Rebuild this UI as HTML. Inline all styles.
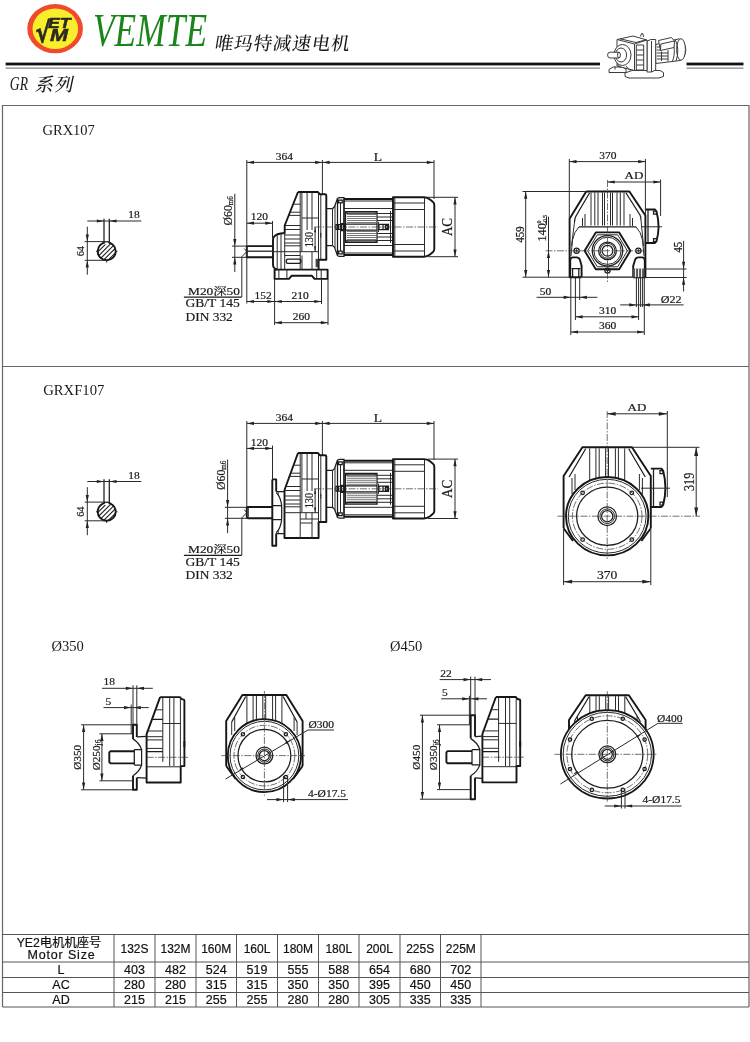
<!DOCTYPE html>
<html lang="zh">
<head>
<meta charset="utf-8">
<title>GR 系列 GRX107 GRXF107</title>
<style>
html,body{margin:0;padding:0;background:#fff;}
body{width:750px;height:1042px;position:relative;overflow:hidden;font-family:"Liberation Serif","Noto Serif CJK SC",serif;color:#111;}
svg{position:absolute;left:0;top:0;will-change:transform;}
.s{font-family:"Liberation Serif","Noto Serif CJK SC",serif;fill:#1a1a1a;}
.d{font-family:"Liberation Serif","Noto Serif CJK SC",serif;fill:#1a1a1a;font-size:11.5px;stroke:#1a1a1a;stroke-width:0.22px;}
.t{font-family:"Liberation Sans","Noto Sans CJK SC",sans-serif;fill:#111;font-size:12.5px;text-anchor:middle;stroke:#111;stroke-width:0.2px;}
.k{stroke:#1c1c1c;fill:none;stroke-width:1.25;}
.k2{stroke:#161616;fill:none;stroke-width:1.9;stroke-linejoin:round;}
.h{stroke:#2a2a2a;fill:none;stroke-width:1;}
.c{stroke:#333;fill:none;stroke-width:0.7;stroke-dasharray:7 1.5 1.5 1.5;}
.w{fill:#fff;stroke:#222;stroke-width:1;}
.a{fill:#222;stroke:none;}
</style>
</head>
<body>
<svg width="750" height="1042" viewBox="0 0 750 1042">
<!-- HEADER -->
<g id="header">
<ellipse cx="55.1" cy="28.7" rx="27.8" ry="24.6" fill="#f04a2c"/>
<ellipse cx="55.3" cy="28.7" rx="22.8" ry="20.3" fill="#f8ee2c"/>
<text x="93" y="46.2" font-family="Liberation Serif,serif" font-style="italic" style="font-size:45.5px" fill="#1a851a" textLength="114" lengthAdjust="spacingAndGlyphs">VEMTE</text>
<text x="214" y="50.3" class="s" style="font-size:18.5px" font-weight="500" letter-spacing="0.9" transform="translate(214 50) skewX(-9) translate(-214 -50)">唯玛特减速电机</text>
<rect x="5.6" y="62.6" width="594.4" height="2.8" fill="#111"/>
<rect x="5.6" y="67.6" width="594.4" height="1" fill="#666"/>
<rect x="686.5" y="62.6" width="57" height="2.8" fill="#111"/>
<rect x="686.5" y="67.6" width="57" height="1" fill="#666"/>
<text x="9.8" y="90.4" class="s" style="font-size:18px" font-style="italic" textLength="18.2" lengthAdjust="spacingAndGlyphs">GR</text>
<text x="34.6" y="90.6" class="s" style="font-size:18.5px" font-weight="500" letter-spacing="0.8" transform="translate(34.6 90.6) skewX(-12) translate(-34.6 -90.6)">系列</text>
</g>
<!-- FRAME -->
<g id="frame" stroke="#666" stroke-width="1" fill="none">
<path d="M2.5 1007 V105.5 H749 V1007" stroke-width="1.2"/>
<path d="M2.5 366.5 H749"/>
</g>
<!-- TABLE -->
<g id="table">
<g stroke="#555" stroke-width="1" fill="none">
<path d="M2.5 934.5 H749 M2.5 962 H749 M2.5 977.5 H749 M2.5 992.5 H749 M2.5 1007 H749"/>
<path d="M114 934.5 V1007 M155 934.5 V1007 M196 934.5 V1007 M236.5 934.5 V1007 M277.5 934.5 V1007 M318.5 934.5 V1007 M359 934.5 V1007 M400 934.5 V1007 M440.5 934.5 V1007 M481 934.5 V1007"/>
</g>
<text class="t" x="59" y="947" style="font-size:12.3px">YE2电机机座号</text>
<text class="t" x="61.5" y="959.3" style="font-size:12.5px" letter-spacing="0.85">Motor Size</text>
<text class="t" x="61" y="974">L</text><text class="t" x="61" y="989">AC</text><text class="t" x="61" y="1004">AD</text>
<text class="t" x="134.5" y="953" style="font-size:12px">132S</text>
<text class="t" x="175.5" y="953" style="font-size:12px">132M</text>
<text class="t" x="216.2" y="953" style="font-size:12px">160M</text>
<text class="t" x="257.0" y="953" style="font-size:12px">160L</text>
<text class="t" x="298.0" y="953" style="font-size:12px">180M</text>
<text class="t" x="338.8" y="953" style="font-size:12px">180L</text>
<text class="t" x="379.5" y="953" style="font-size:12px">200L</text>
<text class="t" x="420.2" y="953" style="font-size:12px">225S</text>
<text class="t" x="460.8" y="953" style="font-size:12px">225M</text>
<text class="t" x="134.5" y="974">403</text>
<text class="t" x="175.5" y="974">482</text>
<text class="t" x="216.2" y="974">524</text>
<text class="t" x="257.0" y="974">519</text>
<text class="t" x="298.0" y="974">555</text>
<text class="t" x="338.8" y="974">588</text>
<text class="t" x="379.5" y="974">654</text>
<text class="t" x="420.2" y="974">680</text>
<text class="t" x="460.8" y="974">702</text>
<text class="t" x="134.5" y="989">280</text>
<text class="t" x="175.5" y="989">280</text>
<text class="t" x="216.2" y="989">315</text>
<text class="t" x="257.0" y="989">315</text>
<text class="t" x="298.0" y="989">350</text>
<text class="t" x="338.8" y="989">350</text>
<text class="t" x="379.5" y="989">395</text>
<text class="t" x="420.2" y="989">450</text>
<text class="t" x="460.8" y="989">450</text>
<text class="t" x="134.5" y="1004">215</text>
<text class="t" x="175.5" y="1004">215</text>
<text class="t" x="216.2" y="1004">255</text>
<text class="t" x="257.0" y="1004">255</text>
<text class="t" x="298.0" y="1004">280</text>
<text class="t" x="338.8" y="1004">280</text>
<text class="t" x="379.5" y="1004">305</text>
<text class="t" x="420.2" y="1004">335</text>
<text class="t" x="460.8" y="1004">335</text>
</g>
<!-- LABELS -->
<text x="42.5" y="134.5" class="s" style="font-size:14.5px">GRX107</text>
<text x="43.2" y="394.5" class="s" style="font-size:14.7px">GRXF107</text>
<text x="51.5" y="651" class="s" style="font-size:14.5px">Ø350</text>
<text x="390" y="651" class="s" style="font-size:14.5px">Ø450</text>
<g id="hdr-extra">
<text x="35.5" y="41.8" font-family="DejaVu Sans,Liberation Sans,sans-serif" font-weight="bold" style="font-size:28px" fill="#2a2a22" stroke="#2a2a22" stroke-width="0.7" textLength="15" lengthAdjust="spacingAndGlyphs">√</text>
<text x="48" y="27.5" font-family="Liberation Sans,sans-serif" font-weight="bold" font-style="italic" style="font-size:15.5px" fill="#2a2a22" stroke="#2a2a22" stroke-width="0.5" textLength="22.5" lengthAdjust="spacingAndGlyphs">ET</text>
<text x="50" y="41.3" font-family="Liberation Sans,sans-serif" font-weight="bold" font-style="italic" style="font-size:17px" fill="#2a2a22" stroke="#2a2a22" stroke-width="0.5" textLength="18" lengthAdjust="spacingAndGlyphs">M</text>
<g stroke="#3c3c3c" stroke-width="1" fill="#fff" stroke-linejoin="round">
<path d="M609 69.5 L613 67 H622 L626 69 V72.5 H609 Z"/>
<path d="M625 73 L632 70.5 H660 L663.5 72.5 V76.5 L659 78 H629 L625 76.5 Z"/>
<path d="M655.7 44.5 L679 38.8 Q686 43 685.8 50 Q685.5 57 680.5 60.5 L655.7 63.5 Z"/>
<ellipse cx="681" cy="49.5" rx="4.4" ry="10.8"/>
<path d="M672 40.5 Q676.5 50 672.5 61.5 M675.3 39.8 Q680 49.5 676 61" fill="none"/>
<path d="M658.5 40.5 L671.5 37.5 L674.5 41 L674 47.5 L660.5 50.5 Z"/>
<path d="M660.5 50.5 L660.8 44 L672 41.5 L674.5 41 M657 47 H660 M657 50 H660 M657 53 H668 M657 56 H668 M657 59 H668 M661.5 51.5 V61 M668 50 V61.5" fill="none"/>
<path d="M647 41 L651 39.5 H655.7 V70 L651.5 72 H647 Z"/>
<path d="M651.5 41 V72" fill="none"/>
<path d="M617 39.5 L633 36 L647 40 V70.5 H634.5 L617 66 Z"/>
<path d="M617 39.5 L634.5 44 L647 40 M634.5 44 V70.5 M620 38.8 L636 42.5 L645 40" fill="none"/>
<path d="M636.3 45 H643.7 V70 H636.3 Z M636.3 50 H643.7 M636.3 55 H643.7 M636.3 60 H643.7 M636.3 65 H643.7" />
<path d="M640.5 36.5 L641.5 33.5 L643 33.8 L643.5 37" fill="none"/>
<ellipse cx="622.5" cy="55" rx="8.5" ry="10.5"/>
<ellipse cx="621" cy="55" rx="5.6" ry="7"/>
<path d="M619 52.2 H610 Q607.6 52.2 607.6 55.1 Q607.6 58 610 58 H619 Z"/>
<ellipse cx="619" cy="55.1" rx="1.4" ry="2.9"/>
<path d="M617.5 64 L621 68 M626 66 L630 70.5 M615 66.5 V69.5" fill="none"/>
</g>
</g>
<g id="d1-key">
<clipPath id="kc"><circle cx="106.7" cy="251.3" r="9.0"/></clipPath>
<path d="M77.3 263.3 L101.3 239.3 M81.9 263.3 L105.9 239.3 M86.5 263.3 L110.5 239.3 M91.1 263.3 L115.1 239.3 M95.7 263.3 L119.7 239.3 M100.3 263.3 L124.3 239.3 M104.9 263.3 L128.9 239.3 M109.5 263.3 L133.5 239.3 M114.1 263.3 L138.1 239.3" stroke="#222" stroke-width="1.1" fill="none" clip-path="url(#kc)"/>
<circle class="k2" cx="106.7" cy="251.3" r="9"/>
<rect x="104.6" y="241" width="4.1" height="3.6" fill="#fff"/>
<path class="k" d="M104 241.8 L109.3 241.8"/>
<path class="k" d="M104 218.7 L104 243.5"/>
<path class="k" d="M109.3 218.7 L109.3 243.5"/>
<path class="h" d="M87.3 221 L141.3 221"/>
<polygon class="a" points="104,221 96.8,219.4 96.8,222.6"/>
<polygon class="a" points="109.3,221 116.5,219.4 116.5,222.6"/>
<text class="d" transform="translate(134 218) scale(1 0.84)" text-anchor="middle">18</text>
<path class="h" d="M87.3 226.7 L87.3 274.7"/>
<polygon class="a" points="87.3,241.6 85.7,234.4 88.9,234.4"/>
<polygon class="a" points="87.3,260.3 85.7,267.5 88.9,267.5"/>
<path class="h" d="M84.7 241.6 L105 241.6"/>
<path class="h" d="M84.7 260.3 L106 260.3"/>
<text class="d" transform="translate(84 251.2) rotate(-90) scale(1 1)" text-anchor="middle" style="font-size:10.3px">64</text>
<path class="h" d="M96 251.3 L98 251.3"/>
<path class="h" d="M115.5 251.3 L117.5 251.3"/>
<path class="h" d="M106.7 260.5 L106.7 262.5"/>
</g>
<g id="d1-m20">
<text class="d" transform="translate(188 294.8) scale(1 0.84)" text-anchor="start" style="font-size:12.6px" textLength="52" lengthAdjust="spacingAndGlyphs">M20深50</text>
<path class="k" d="M183.9 297 L241.8 297"/>
<text class="d" transform="translate(185.5 307.3) scale(1 0.84)" text-anchor="start" style="font-size:14.3px" textLength="54.3" lengthAdjust="spacingAndGlyphs">GB/T 145</text>
<text class="d" transform="translate(185.5 321) scale(1 0.84)" text-anchor="start" style="font-size:14.3px" textLength="47.3" lengthAdjust="spacingAndGlyphs">DIN 332</text>
<path class="h" d="M241.8 297 V256.8 L246.8 251.5 L244.3 248.6"/>
<path class="h" d="M234.8 193.7 L234.8 272"/>
<polygon class="a" points="234.8,246.1 233.2,238.9 236.4,238.9"/>
<polygon class="a" points="234.8,257.3 233.2,264.5 236.4,264.5"/>
<path class="h" d="M232 246.1 L247 246.1"/>
<path class="h" d="M232 257.3 L247 257.3"/>
<text class="d" transform="translate(232.3 225.5) rotate(-90) scale(0.95 1)" text-anchor="start" style="font-size:12.4px">Ø60<tspan style="font-size:7.5px" dy="1">m6</tspan></text>
</g>
<g id="d1-side">
<path class="k2" d="M298 192 H317.8 L320 194.3 H325 Q326.3 194.3 326.3 195.6 V259.7 H318.6 V269.5"/>
<path class="k2" d="M298 192 L284.7 225.5 V233 Q276 233.5 273.8 237 Q273 238 273 240 V264.5 Q273 268.5 277 269.5"/>
<path class="k2" d="M274.6 269.6 H327.6 V278.9 H314.5 L312 275.8 H291.5 L289 278.9 H274.6 Z"/>
<path class="h" d="M278.9 269.6 V278.9 M286.9 269.6 V278.9 M316.7 269.6 V278.9 M321.2 269.6 V278.9"/>
<path class="h" d="M300.2 192.5 V269.5 M301.9 193 V251.5 M307.1 193 V230 M312 193 V230 M318.5 194 V259.7 M320.8 195 V259.5"/>
<path class="h" d="M284.7 233 V269.5 M281 234 V269 M277.2 235.5 V269"/>
<path class="h" d="M293.3 204.2 H300.2 M290.1 212.2 H300.2 M288.8 215.4 H300.2 M284.7 225.5 H300.2 M284.7 229.5 H300.2 M284.7 235 H300.2 M284.7 239 H300.2 M284.7 243 H300.2 M284.7 245.8 H300.2 M273 251.7 H318.5"/>
<path class="h" d="M301.9 218 H318.5"/>
<path class="k" d="M288 259 H298.8 Q301 259 301 261.2 Q301 263.4 298.8 263.4 H288 Q286.2 263.4 286.2 261.2 Q286.2 259 288 259 Z"/>
<path class="h" d="M284.7 255.5 H300.2 M302 255.5 V269.5 M312 252 V269.5"/>
<rect x="315.6" y="258.8" width="2.6" height="8.4" fill="#444"/>
<path class="k" d="M326.3 208.5 H332 Q334.5 208 335.5 204 L337.5 198.5 M326.3 245.5 H332 Q334.5 246 335.5 250 L337.5 255.5"/>
<path class="h" d="M332.5 208.5 V245.5 M335 206 V248"/>
<path class="k" d="M337.5 198.5 Q338 197.6 340 197.6 H344 V256.4 H340 Q338 256.4 337.5 255.5 Z"/>
<path class="k" d="M338.6 200.2 h3.6 v2.6 h-3.6 z M338.6 251.2 h3.6 v2.6 h-3.6 z"/>
<path class="h" d="M340.5 203 V251"/>
<path class="k2" d="M344 199 H393 M344 255 H393"/>
<path class="h" d="M344 201 H393 M344 253 H393 M344 208.5 H393 M344 245.5 H393"/>
<path class="k" d="M344 199 V255"/>
<path class="k" d="M345.5 211.6 H377 V242.4 H345.5 Z"/>
<path class="h" style="stroke:#555;stroke-width:0.8" d="M347 214.5 H376 M347 216.5 H376 M347 218.5 H376 M347 220.5 H376 M347 222.5 H376 M347 231.5 H376 M347 233.5 H376 M347 235.5 H376 M347 237.5 H376 M347 239.5 H376"/>
<path class="k" d="M345.5 213.2 H377 M345.5 224 H377 M345.5 230 H377 M345.5 240.8 H377"/>
<path class="h" d="M346 211.6 l2 2 M377 211.6 l-2 2 M346 242.4 l2 -2 M377 242.4 l-2 -2"/>
<path class="k" d="M336 224.6 h9 v4.8 h-9 z M338.5 224.6 v4.8 M341.5 223.5 h2.5 v7 h-2.5 z"/>
<path class="h" d="M377 213.5 H393 M377 217 H393 M377 220.5 H393 M377 233.5 H393 M377 237 H393 M377 240.5 H393"/>
<path class="k" d="M379 224.3 h9.5 v5.4 h-9.5 z M383 224.3 v5.4 M385.5 225.6 h2.2 v2.8 h-2.2 z"/>
<path class="h" d="M378.5 222 V232 M390.5 211 V243"/>
<path class="k2" d="M393 197.3 H424 Q427 197.3 430 199.5 L433 202 Q434.3 203 434.3 205 V249 Q434.3 251 433 252 L430 254.5 Q427 256.7 424 256.7 H393 Z"/>
<path class="h" d="M394.8 197.3 V256.7 M424.5 197.5 V256.5 M393 203 H424.5 M393 251 H424.5 M393 209.5 H424.5 M393 244.5 H424.5"/>
<path class="c" d="M314 227 L438 227"/>
<path class="k2" d="M273 246.1 H246.8 V257.2 H273"/>
<path class="k" d="M247 251.2 H273"/>
<path class="h" d="M246.8 162.4 L322.4 162.4"/>
<polygon class="a" points="246.8,162.4 254,160.8 254,164"/>
<polygon class="a" points="322.4,162.4 315.2,160.8 315.2,164"/>
<path class="h" d="M322.4 162.4 L434 162.4"/>
<polygon class="a" points="322.4,162.4 329.6,160.8 329.6,164"/>
<polygon class="a" points="434,162.4 426.8,160.8 426.8,164"/>
<text class="d" transform="translate(284.4 159.6) scale(1 0.84)" text-anchor="middle">364</text>
<text class="d" transform="translate(378 160.8) scale(1 0.84)" text-anchor="middle" style="font-size:13.6px">L</text>
<path class="h" d="M246.8 160 L246.8 303.5"/>
<path class="h" d="M322.4 160 L322.4 194"/>
<path class="h" d="M434 160 L434 199"/>
<path class="h" d="M455 197.3 L455 256.7"/>
<polygon class="a" points="455,197.3 453.4,204.5 456.6,204.5"/>
<polygon class="a" points="455,256.7 453.4,249.5 456.6,249.5"/>
<path class="h" d="M428 197.3 L458 197.3"/>
<path class="h" d="M428 256.7 L458 256.7"/>
<text class="d" transform="translate(452.2 227) rotate(-90) scale(0.86 1)" text-anchor="middle" style="font-size:15.3px">AC</text>
<path class="h" d="M315.1 227 L315.1 251.7"/>
<polygon class="a" points="315.1,227.3 314.1,232.3 316.1,232.3"/>
<polygon class="a" points="315.1,251.5 314.1,246.5 316.1,246.5"/>
<text class="d" transform="translate(312.6 239.6) rotate(-90) scale(0.87 1)" text-anchor="middle" style="font-size:11.8px">130</text>
<polygon class="a" points="320.8,232 320,235 321.6,235"/>
<polygon class="a" points="320.8,238.5 320,235.5 321.6,235.5"/>
<path class="h" d="M246.8 223.2 L272.5 223.2"/>
<polygon class="a" points="246.8,223.2 254,221.6 254,224.8"/>
<polygon class="a" points="272.5,223.2 265.3,221.6 265.3,224.8"/>
<text class="d" transform="translate(259.3 220.4) scale(1 0.84)" text-anchor="middle">120</text>
<path class="h" d="M272.5 221 L272.5 238"/>
<path class="h" d="M246.8 301.5 L274.6 301.5"/>
<polygon class="a" points="246.8,301.5 254,299.9 254,303.1"/>
<polygon class="a" points="274.6,301.5 267.4,299.9 267.4,303.1"/>
<path class="h" d="M274.6 301.5 L321.5 301.5"/>
<polygon class="a" points="274.6,301.5 281.8,299.9 281.8,303.1"/>
<polygon class="a" points="321.5,301.5 314.3,299.9 314.3,303.1"/>
<text class="d" transform="translate(263 298.8) scale(1 0.84)" text-anchor="middle">152</text>
<text class="d" transform="translate(300 298.8) scale(1 0.84)" text-anchor="middle">210</text>
<path class="h" d="M274.6 279 L274.6 325"/>
<path class="h" d="M321.5 279 L321.5 304"/>
<path class="h" d="M328 279 L328 325"/>
<path class="h" d="M274.6 322.7 L328 322.7"/>
<polygon class="a" points="274.6,322.7 281.8,321.1 281.8,324.3"/>
<polygon class="a" points="328,322.7 320.8,321.1 320.8,324.3"/>
<text class="d" transform="translate(301.3 320) scale(1 0.84)" text-anchor="middle">260</text>
</g>
<g id="d1-front">
<path class="k2" d="M586.2 191.5 H629.4 L645.4 215.5 V277.2 H633.2 M581.6 277.2 H569.6 V218.8 L586.2 191.5"/>
<path class="k" d="M581.6 277.2 H633.2"/>
<path class="k" d="M589.5 193 L576 216 Q574.5 219 574.5 222 M626 193 L640 215 Q641 217.5 641 220"/>
<path class="h" d="M574.5 222 L571.5 246 M641 220 L643.5 246"/>
<path class="h" d="M591 192.5 V225.5 M594.8 192.5 V225.5 M598 192.5 V225.5 M602.5 192.5 V225.5 M604.5 192.5 V225.5 M610.5 192.5 V225.5 M612.5 192.5 V225.5 M617 192.5 V225.5 M620.3 192.5 V225.5 M624 192.5 V225.5"/>
<path class="h" d="M582.5 218 V226 M585 214 V226 M630 214 V226 M632.5 218 V226"/>
<path class="k" d="M579 226.8 H636"/>
<path class="h" d="M579 226.8 Q574 232 572.5 240 L571 256 M636 226.8 Q641 232 642.5 240 L644 256"/>
<path class="k2" d="M584.6 250.8 L595.8 232.4 H619.2 L630.4 250.8 L619.2 269.2 H595.8 Z"/>
<path class="h" d="M587.6 250.8 L597.3 234.8 H617.7 L627.4 250.8 L617.7 266.8 H597.3 Z"/>
<circle class="k" cx="607.5" cy="250.8" r="15.2"/>
<circle class="h" cx="607.5" cy="250.8" r="13.6"/>
<circle class="k" cx="607.5" cy="250.8" r="8.8"/>
<circle class="h" cx="607.5" cy="250.8" r="7.4"/>
<circle class="k" cx="607.5" cy="250.8" r="5.4"/>
<circle class="k" cx="576.6" cy="250.8" r="2.6"/>
<path class="h" d="M575 250.8 h3.2 M576.6 249.2 v3.2"/>
<circle class="k" cx="638.4" cy="250.8" r="2.6"/>
<path class="h" d="M636.8 250.8 h3.2 M638.4 249.2 v3.2"/>
<circle class="k" cx="607.5" cy="270.6" r="2.6"/>
<path class="h" d="M605.9 270.6 h3.2 M607.5 269 v3.2"/>
<path class="k2" d="M570.2 277 V260.5 Q570.2 257.4 573 257.4 H576.5 Q579 257.4 580 260 L581.6 266 V277"/>
<path class="k2" d="M644.8 277 V260.5 Q644.8 257.4 642 257.4 H638.5 Q636 257.4 635 260 L633.2 266 V277"/>
<path class="k" d="M571.5 268.5 H580.5 M572.6 268.5 V277 M578.8 268.5 V277"/>
<rect x="633" y="268.6" width="11.6" height="8.6" fill="#555"/>
<path class="h" style="stroke:#fff" d="M635.6 268.6 V277.2 M638.6 268.6 V277.2 M641.6 268.6 V277.2"/>
<path class="k2" d="M645.4 209.5 H655 L656.5 211.5 Q660.6 226.8 656.5 241 L655 243 H645.4"/>
<path class="k" d="M653.5 211 h3 v3 h-3 z M653.5 238.5 h3 v3 h-3 z M648 209.5 V243"/>
<path class="c" d="M545.5 250.8 L646 250.8"/>
<path class="c" d="M607.5 180 L607.5 282"/>
<path class="h" d="M641 226.8 L662 226.8"/>
<path class="h" d="M569.3 161.6 L645.4 161.6"/>
<polygon class="a" points="569.3,161.6 576.5,160 576.5,163.2"/>
<polygon class="a" points="645.4,161.6 638.2,160 638.2,163.2"/>
<text class="d" transform="translate(607.8 158.8) scale(1 0.84)" text-anchor="middle">370</text>
<path class="h" d="M569.3 159 L569.3 219"/>
<path class="h" d="M645.4 159 L645.4 215"/>
<path class="h" d="M607.5 182 L660.6 182"/>
<polygon class="a" points="607.5,182 614.7,180.4 614.7,183.6"/>
<polygon class="a" points="660.6,182 653.4,180.4 653.4,183.6"/>
<text class="d" transform="translate(634 179.4) scale(1 0.84)" text-anchor="middle" style="font-size:13px">AD</text>
<path class="h" d="M660.6 179.5 L660.6 216"/>
<path class="h" d="M525.7 191.5 L525.7 277.2"/>
<polygon class="a" points="525.7,191.5 524.1,198.7 527.3,198.7"/>
<polygon class="a" points="525.7,277.2 524.1,270 527.3,270"/>
<path class="h" d="M522.5 191.5 L586 191.5"/>
<path class="h" d="M522.5 277.2 L570 277.2"/>
<text class="d" transform="translate(523.6 234.5) rotate(-90) scale(0.82 1)" text-anchor="middle" style="font-size:13px">459</text>
<path class="h" d="M548.5 216.7 L548.5 277.2"/>
<polygon class="a" points="548.5,250.8 546.9,258 550.1,258"/>
<polygon class="a" points="548.5,277.2 546.9,270 550.1,270"/>
<text class="d" transform="translate(546 241.5) rotate(-90) scale(0.94 1)" text-anchor="start" style="font-size:13px">140<tspan style="font-size:5.5px" dy="-5">0</tspan><tspan style="font-size:5.5px" dy="5.5" dx="-3">-0.5</tspan></text>
<path class="h" d="M546.5 216.7 L546.5 225"/>
<path class="h" d="M536.6 297.3 L597.4 297.3"/>
<polygon class="a" points="570.8,297.3 563.6,295.7 563.6,298.9"/>
<polygon class="a" points="579.7,297.3 586.9,295.7 586.9,298.9"/>
<text class="d" transform="translate(545.5 294.5) scale(1 0.84)" text-anchor="middle">50</text>
<path class="h" d="M570.8 277.5 L570.8 335"/>
<path class="h" d="M575.4 277.5 L575.4 320"/>
<path class="h" d="M579.7 277.5 L579.7 300"/>
<path class="h" d="M575.4 316.8 L638.7 316.8"/>
<polygon class="a" points="575.4,316.8 582.6,315.2 582.6,318.4"/>
<polygon class="a" points="638.7,316.8 631.5,315.2 631.5,318.4"/>
<text class="d" transform="translate(607.5 313.6) scale(1 0.84)" text-anchor="middle">310</text>
<path class="h" d="M570.8 332 L644.3 332"/>
<polygon class="a" points="570.8,332 578,330.4 578,333.6"/>
<polygon class="a" points="644.3,332 637.1,330.4 637.1,333.6"/>
<text class="d" transform="translate(607.5 329) scale(1 0.84)" text-anchor="middle">360</text>
<path class="h" d="M644.3 277.5 L644.3 335"/>
<path class="h" d="M620.2 304.9 L683.6 304.9"/>
<polygon class="a" points="636.4,304.9 629.2,303.3 629.2,306.5"/>
<polygon class="a" points="642.6,304.9 649.8,303.3 649.8,306.5"/>
<text class="d" transform="translate(671.2 302.8) scale(1 0.9)" text-anchor="middle" style="font-size:12.1px">Ø22</text>
<path class="h" d="M636.4 277.5 L636.4 307"/>
<path class="h" d="M638.6 277.5 L638.6 320"/>
<path class="h" d="M640.6 277.5 L640.6 307"/>
<path class="h" d="M642.6 277.5 L642.6 307"/>
<path class="h" d="M683.6 240.8 L683.6 291.5"/>
<polygon class="a" points="683.6,269 682,261.8 685.2,261.8"/>
<polygon class="a" points="683.6,277.5 682,284.7 685.2,284.7"/>
<path class="h" d="M645 269 L686.5 269"/>
<path class="h" d="M645 277.5 L686.5 277.5"/>
<text class="d" transform="translate(681.8 247.3) rotate(-90) scale(0.82 1)" text-anchor="middle" style="font-size:13px">45</text>
</g>
<g id="d2-key" transform="translate(0 260.5)">
<clipPath id="kc2"><circle cx="106.7" cy="251.3" r="9.0"/></clipPath>
<path d="M77.3 263.3 L101.3 239.3 M81.9 263.3 L105.9 239.3 M86.5 263.3 L110.5 239.3 M91.1 263.3 L115.1 239.3 M95.7 263.3 L119.7 239.3 M100.3 263.3 L124.3 239.3 M104.9 263.3 L128.9 239.3 M109.5 263.3 L133.5 239.3 M114.1 263.3 L138.1 239.3" stroke="#222" stroke-width="1.1" fill="none" clip-path="url(#kc2)"/>
<circle class="k2" cx="106.7" cy="251.3" r="9"/>
<rect x="104.6" y="241" width="4.1" height="3.6" fill="#fff"/>
<path class="k" d="M104 241.8 L109.3 241.8"/>
<path class="k" d="M104 218.7 L104 243.5"/>
<path class="k" d="M109.3 218.7 L109.3 243.5"/>
<path class="h" d="M87.3 221 L141.3 221"/>
<polygon class="a" points="104,221 96.8,219.4 96.8,222.6"/>
<polygon class="a" points="109.3,221 116.5,219.4 116.5,222.6"/>
<text class="d" transform="translate(134 218) scale(1 0.84)" text-anchor="middle">18</text>
<path class="h" d="M87.3 226.7 L87.3 274.7"/>
<polygon class="a" points="87.3,241.6 85.7,234.4 88.9,234.4"/>
<polygon class="a" points="87.3,260.3 85.7,267.5 88.9,267.5"/>
<path class="h" d="M84.7 241.6 L105 241.6"/>
<path class="h" d="M84.7 260.3 L106 260.3"/>
<text class="d" transform="translate(84 251.2) rotate(-90) scale(1 1)" text-anchor="middle" style="font-size:10.3px">64</text>
<path class="h" d="M96 251.3 L98 251.3"/>
<path class="h" d="M115.5 251.3 L117.5 251.3"/>
<path class="h" d="M106.7 260.5 L106.7 262.5"/>
</g>
<g id="d2-m20">
<text class="d" transform="translate(188 553.1) scale(1 0.84)" text-anchor="start" style="font-size:12.6px" textLength="52" lengthAdjust="spacingAndGlyphs">M20深50</text>
<path class="k" d="M183.9 555.3 L241.8 555.3"/>
<text class="d" transform="translate(185.5 565.6) scale(1 0.84)" text-anchor="start" style="font-size:14.3px" textLength="54.3" lengthAdjust="spacingAndGlyphs">GB/T 145</text>
<text class="d" transform="translate(185.5 579.3) scale(1 0.84)" text-anchor="start" style="font-size:14.3px" textLength="47.3" lengthAdjust="spacingAndGlyphs">DIN 332</text>
<path class="h" d="M241.8 555.3 V517.9 L246.8 512.6 L244.3 509.7"/>
<path class="h" d="M227.6 459.6 L227.6 533.2"/>
<polygon class="a" points="227.6,507.3 226,500.1 229.2,500.1"/>
<polygon class="a" points="227.6,518.3 226,525.5 229.2,525.5"/>
<path class="h" d="M224.8 507.3 L247 507.3"/>
<path class="h" d="M224.8 518.3 L247 518.3"/>
<text class="d" transform="translate(225.1 490) rotate(-90) scale(0.95 1)" text-anchor="start" style="font-size:12.4px">Ø60<tspan style="font-size:7.5px" dy="1">m6</tspan></text>
</g>
<g id="d2-side" transform="translate(0 261)">
<path class="k2" d="M298 192 H317.8 L320 194.3 H325 Q326.3 194.3 326.3 195.6 V261 H318.6 V277 H284.5 V229 L298 192"/>
<path class="h" d="M300.2 192.5 V277 M301.9 193 V251.5 M307.1 193 V230 M312 193 V230 M318.5 194 V261 M320.8 195 V260.5"/>
<path class="h" d="M293.3 204.2 H300.2 M290.1 212.2 H300.2 M288.8 215.4 H300.2 M285.6 225.5 H300.2 M284.5 229.5 H300.2 M284.5 235 H300.2 M284.5 239 H300.2 M284.5 243 H300.2 M284.5 245.8 H300.2 M284.5 251.7 H318.5"/>
<path class="h" d="M301.9 218 H318.5 M300.2 258 H318.5 M306 251.7 V258 M312 251.7 V277 M300.2 262 H312"/>
<g transform="translate(0 0.8)">
<path class="k" d="M326.3 208.5 H332 Q334.5 208 335.5 204 L337.5 198.5 M326.3 245.5 H332 Q334.5 246 335.5 250 L337.5 255.5"/>
<path class="h" d="M332.5 208.5 V245.5 M335 206 V248"/>
<path class="k" d="M337.5 198.5 Q338 197.6 340 197.6 H344 V256.4 H340 Q338 256.4 337.5 255.5 Z"/>
<path class="k" d="M338.6 200.2 h3.6 v2.6 h-3.6 z M338.6 251.2 h3.6 v2.6 h-3.6 z"/>
<path class="h" d="M340.5 203 V251"/>
<path class="k2" d="M344 199 H393 M344 255 H393"/>
<path class="h" d="M344 201 H393 M344 253 H393 M344 208.5 H393 M344 245.5 H393"/>
<path class="k" d="M344 199 V255"/>
<path class="k" d="M345.5 211.6 H377 V242.4 H345.5 Z"/>
<path class="h" style="stroke:#555;stroke-width:0.8" d="M347 214.5 H376 M347 216.5 H376 M347 218.5 H376 M347 220.5 H376 M347 222.5 H376 M347 231.5 H376 M347 233.5 H376 M347 235.5 H376 M347 237.5 H376 M347 239.5 H376"/>
<path class="k" d="M345.5 213.2 H377 M345.5 224 H377 M345.5 230 H377 M345.5 240.8 H377"/>
<path class="h" d="M346 211.6 l2 2 M377 211.6 l-2 2 M346 242.4 l2 -2 M377 242.4 l-2 -2"/>
<path class="k" d="M336 224.6 h9 v4.8 h-9 z M338.5 224.6 v4.8 M341.5 223.5 h2.5 v7 h-2.5 z"/>
<path class="h" d="M377 213.5 H393 M377 217 H393 M377 220.5 H393 M377 233.5 H393 M377 237 H393 M377 240.5 H393"/>
<path class="k" d="M379 224.3 h9.5 v5.4 h-9.5 z M383 224.3 v5.4 M385.5 225.6 h2.2 v2.8 h-2.2 z"/>
<path class="h" d="M378.5 222 V232 M390.5 211 V243"/>
<path class="k2" d="M393 197.3 H424 Q427 197.3 430 199.5 L433 202 Q434.3 203 434.3 205 V249 Q434.3 251 433 252 L430 254.5 Q427 256.7 424 256.7 H393 Z"/>
<path class="h" d="M394.8 197.3 V256.7 M424.5 197.5 V256.5 M393 203 H424.5 M393 251 H424.5 M393 209.5 H424.5 M393 244.5 H424.5"/>
<path class="c" d="M314 227 L438 227"/>
</g>
<path class="h" d="M246.8 162.4 L322.4 162.4"/>
<polygon class="a" points="246.8,162.4 254,160.8 254,164"/>
<polygon class="a" points="322.4,162.4 315.2,160.8 315.2,164"/>
<path class="h" d="M322.4 162.4 L434 162.4"/>
<polygon class="a" points="322.4,162.4 329.6,160.8 329.6,164"/>
<polygon class="a" points="434,162.4 426.8,160.8 426.8,164"/>
<text class="d" transform="translate(284.4 159.6) scale(1 0.84)" text-anchor="middle">364</text>
<text class="d" transform="translate(378 160.8) scale(1 0.84)" text-anchor="middle" style="font-size:13.6px">L</text>
<path class="h" d="M246.8 160 L246.8 246"/>
<path class="h" d="M322.4 160 L322.4 194"/>
<path class="h" d="M434 160 L434 199"/>
<path class="h" d="M455 198.1 L455 257.5"/>
<polygon class="a" points="455,198.1 453.4,205.3 456.6,205.3"/>
<polygon class="a" points="455,257.5 453.4,250.3 456.6,250.3"/>
<path class="h" d="M428 198.1 L458 198.1"/>
<path class="h" d="M428 257.5 L458 257.5"/>
<text class="d" transform="translate(452.2 227.8) rotate(-90) scale(0.86 1)" text-anchor="middle" style="font-size:15.3px">AC</text>
<path class="h" d="M315.1 227.8 L315.1 251.7"/>
<polygon class="a" points="315.1,228 314.1,233 316.1,233"/>
<polygon class="a" points="315.1,251.5 314.1,246.5 316.1,246.5"/>
<text class="d" transform="translate(312.6 239.6) rotate(-90) scale(0.87 1)" text-anchor="middle" style="font-size:11.8px">130</text>
<polygon class="a" points="320.8,232 320,235 321.6,235"/>
<polygon class="a" points="320.8,238.5 320,235.5 321.6,235.5"/>
<path class="k2" d="M272.3 218.4 H276.2 V230.6 M276.2 272.6 V284.8 H272.3 V218.4"/>
<path class="k" d="M276.2 231.6 Q280.7 235.6 281.7 245 M276.2 271.6 Q280.7 267.6 281.7 258.2"/>
<path class="k" d="M276.2 230.6 H284.5 M276.2 272.6 H284.5"/>
<path class="h" d="M278.2 230.6 V233.6 M278.2 272.6 V269.6"/>
<path class="k" d="M272.3 244.5 H280.2 Q281.7 244.5 281.7 246 V257.2 Q281.7 258.7 280.2 258.7 H272.3"/>
<path class="k2" d="M272.3 246 H247.8 L246.8 247 V256.2 L247.8 257.2 H272.3"/>
<path class="h" d="M248.3 247 V256.2"/>
<path class="h" d="M246.8 187.4 L272.5 187.4"/>
<polygon class="a" points="246.8,187.4 254,185.8 254,189"/>
<polygon class="a" points="272.5,187.4 265.3,185.8 265.3,189"/>
<text class="d" transform="translate(259.4 184.6) scale(1 0.84)" text-anchor="middle">120</text>
<path class="h" d="M272.5 184.5 L272.5 219"/>
</g>
<g id="d2-front">
<path class="k2" d="M563.6 528.3 V476 L582.4 447.3 H632 L650.8 476 V528.3"/>
<path class="k" d="M585.7 448.8 L569.1 477 M628.7 448.8 L645.3 477"/>
<path class="h" d="M589.7 448.3 V480.3 M595.9 448.3 V480.3 M599.2 448.3 V480.3 M605.6 448.3 V480.3 M608.5 448.3 V480.3 M615.4 448.3 V480.3 M618.4 448.3 V480.3 M624.7 448.3 V480.3"/>
<path class="k2" d="M563.6 528.3 L573 541 M650.8 528.3 L641.4 541"/>
<path class="h" d="M572 478 V494 M575 474 V490 M642.4 478 V494 M639.4 474 V490"/>
<ellipse cx="607.2" cy="516.2" rx="41.2" ry="39.2" fill="#fff" stroke="#161616" stroke-width="1.9"/>
<ellipse class="h" cx="607.2" cy="516.2" rx="38.900000000000006" ry="36.900000000000006"/>
<ellipse class="c" cx="607.2" cy="516.2" rx="34.8" ry="33.1"/>
<ellipse class="k" cx="607.2" cy="516.2" rx="30.6" ry="29.1"/>
<circle class="k" cx="607.2" cy="516.2" r="9.3"/>
<circle class="h" cx="607.2" cy="516.2" r="7.3"/>
<circle class="k" cx="607.2" cy="516.2" r="5.6"/>
<circle class="k" cx="631.8" cy="539.6" r="1.8"/>
<circle class="k" cx="582.6" cy="539.6" r="1.8"/>
<circle class="k" cx="582.6" cy="492.8" r="1.8"/>
<circle class="k" cx="631.8" cy="492.8" r="1.8"/>
<path class="k2" d="M650.8 468.6 H661.5 L663.2 470.8 Q667.6 488 663.2 505 L661.5 507 H650.8"/>
<path class="k" d="M660 470.5 h3 v3 h-3 z M660 502 h3 v3 h-3 z M653.5 468.6 V507"/>
<path class="h" d="M641 488.2 L670 488.2"/>
<path class="c" d="M557.5 516.2 L700 516.2"/>
<path class="c" d="M607.2 411 L607.2 560"/>
<path class="h" d="M607.2 413.8 L667.3 413.8"/>
<polygon class="a" points="607.2,413.8 615.7,411.9 615.7,415.7"/>
<polygon class="a" points="667.3,413.8 658.8,411.9 658.8,415.7"/>
<text class="d" transform="translate(637 411) scale(1 0.84)" text-anchor="middle" style="font-size:13px">AD</text>
<path class="h" d="M667.3 411 L667.3 497"/>
<path class="h" d="M696.2 447.3 L696.2 516.2"/>
<polygon class="a" points="696.2,447.3 694.2,456.1 698.2,456.1"/>
<polygon class="a" points="696.2,516.2 694.2,507.4 698.2,507.4"/>
<path class="h" d="M632 447.3 L699.5 447.3"/>
<text class="d" transform="translate(693.6 481.9) rotate(-90) scale(0.82 1)" text-anchor="middle" style="font-size:14.8px">319</text>
<path class="h" d="M563.6 581.7 L650.8 581.7"/>
<polygon class="a" points="563.6,581.7 572.1,579.8 572.1,583.6"/>
<polygon class="a" points="650.8,581.7 642.3,579.8 642.3,583.6"/>
<text class="d" transform="translate(607.2 578.8) scale(1 0.92)" text-anchor="middle" style="font-size:13.6px">370</text>
<path class="h" d="M563.6 529 L563.6 585"/>
<path class="h" d="M650.8 529 L650.8 585"/>
</g>
<g id="f350-side" transform="translate(-137.9 505.1)">
<path class="k2" d="M298 192 H317.8 L320 194.3 H321 Q322.3 194.3 322.3 195.6 V261 H318.6 V277.4 H284.5 V229 L298 192"/>
<path class="h" d="M300.7 192.5 V256.8 M307.6 193 V261 M311.8 193 V261 M318.3 194 V261"/>
<path class="h" d="M293 204.7 H300.7 M284.5 225.9 H300.7 M284.5 231.6 H300.7 M284.5 234.8 H300.7 M284.5 243.3 H300.7"/>
<path class="k" d="M289.2 214.2 H300.7 M284.5 246.6 H300.7"/>
<path class="h" d="M300.7 218.4 H318.3 M284.5 261.7 H318.6"/>
<path class="k2" d="M322.3 236 V242"/>
<path class="c" d="M284.5 252.2 L326 252.2"/>
<path class="k2" d="M270.9 233.8 V219.7 H274.7 V231.8"/>
<path class="k" d="M274.7 231.8 L284.5 231.3"/>
<path class="k" d="M270.9 233.8 Q277.2 237.8 279.5 244.5"/>
<path class="k2" d="M270.9 270.6 V284.7 H274.7 V272.6"/>
<path class="k" d="M274.7 272.6 L284.5 273.1"/>
<path class="k" d="M270.9 270.6 Q277.2 266.6 279.5 259.9"/>
<path class="k" d="M272.2 244.5 H279.5 V259.9 H272.2"/>
<path class="k" d="M272.2 244.5 V259.9"/>
<path class="k2" d="M272.2 246.1 H248.4 L247.2 247.3 V257.1 L248.4 258.3 H272.2"/>
<path class="h" d="M239.9 183.2 L290.7 183.2"/>
<polygon class="a" points="270.9,183.2 263.7,181.6 263.7,184.8"/>
<polygon class="a" points="274.7,183.2 281.9,181.6 281.9,184.8"/>
<text class="d" transform="translate(247.2 180.2) scale(1 0.84)" text-anchor="middle">18</text>
<path class="h" d="M241.4 202.5 L286.7 202.5"/>
<polygon class="a" points="269.1,202.5 261.9,200.9 261.9,204.1"/>
<polygon class="a" points="271.5,202.5 278.7,200.9 278.7,204.1"/>
<text class="d" transform="translate(246.2 199.7) scale(1 0.84)" text-anchor="middle">5</text>
<path class="h" d="M270.9 180.2 L270.9 219.7"/>
<path class="h" d="M274.7 180.2 L274.7 219.7"/>
<path class="h" d="M269.1 199.5 L269.1 228.7"/>
<path class="h" d="M221.5 219.7 L221.5 284.7"/>
<polygon class="a" points="221.5,219.7 219.9,226.9 223.1,226.9"/>
<polygon class="a" points="221.5,284.7 219.9,277.5 223.1,277.5"/>
<path class="h" d="M219 219.7 L270.9 219.7"/>
<path class="h" d="M219 284.7 L270.9 284.7"/>
<text class="d" transform="translate(218.8 252.2) rotate(-90) scale(1 1)" text-anchor="middle" style="font-size:11.2px">Ø350</text>
<path class="h" d="M239.8 228.7 L239.8 275.7"/>
<polygon class="a" points="239.8,228.7 238.2,235.9 241.4,235.9"/>
<polygon class="a" points="239.8,275.7 238.2,268.5 241.4,268.5"/>
<path class="h" d="M237.3 228.7 L270.9 228.7"/>
<path class="h" d="M237.3 275.7 L270.9 275.7"/>
<text class="d" transform="translate(237.5 265.2) rotate(-90) scale(1 1)" text-anchor="start" style="font-size:11.2px">Ø250<tspan style="font-size:7.5px" dy="1.5">j6</tspan></text>
</g>
<g id="f350-front">
<path class="k2" d="M226.2 766 V721 L242.4 695 H286.4 L302.6 721 V766"/>
<path class="k" d="M245.7 696.5 L231.7 722 M283.1 696.5 L297.1 722"/>
<path class="h" d="M246.9 696 V728 M253.1 696 V728 M256.4 696 V728 M262.8 696 V728 M265.7 696 V728 M272.6 696 V728 M275.6 696 V728 M281.9 696 V728"/>
<path class="k2" d="M226.2 766 l9.5 13 M302.6 766 l-9.5 13"/>
<path class="h" d="M231.7 722 V735 M234.7 717 V731 M297.1 722 V735 M294.1 717 V731"/>
<ellipse cx="264.4" cy="755.6" rx="36.6" ry="36.5" fill="#fff" stroke="#161616" stroke-width="1.8"/>
<ellipse class="h" cx="264.4" cy="755.6" rx="34.4" ry="34.3"/>
<ellipse class="c" cx="264.4" cy="755.6" rx="30.4" ry="30.3"/>
<ellipse class="k" cx="264.4" cy="755.6" rx="26.4" ry="26.3"/>
<circle class="k" cx="264.4" cy="755.6" r="8.4"/>
<circle class="h" cx="264.4" cy="755.6" r="6.6"/>
<circle class="k" cx="264.4" cy="755.6" r="5"/>
<circle class="k" cx="285.9" cy="777" r="1.7"/>
<circle class="k" cx="242.9" cy="777" r="1.7"/>
<circle class="k" cx="242.9" cy="734.2" r="1.7"/>
<circle class="k" cx="285.9" cy="734.2" r="1.7"/>
<path class="c" d="M221.3 755.6 L305 755.6"/>
<path class="c" d="M264.4 691 L264.4 795.6"/>
<path class="h" d="M225.6 779 L308 730 H334"/>
<polygon class="a" points="290.5,740.1 285.2,742 286.4,743.9"/>
<polygon class="a" points="238.3,771.1 243.6,769.2 242.4,767.3"/>
<text class="d" transform="translate(334 728) scale(1 0.84)" text-anchor="end">Ø300</text>
<path class="h" d="M267 799.6 L348 799.6"/>
<polygon class="a" points="283.6,799.6 276.4,798 276.4,801.2"/>
<polygon class="a" points="287.6,799.6 294.8,798 294.8,801.2"/>
<path class="h" d="M283.6 776 L283.6 802.1"/>
<path class="h" d="M287.6 776 L287.6 802.1"/>
<text class="d" transform="translate(346 796.8) scale(1 0.84)" text-anchor="end">4-Ø17.5</text>
</g>
<g id="f450-side" transform="translate(197.9 505)">
<path class="k2" d="M298 192 H317.8 L320 194.3 H321 Q322.3 194.3 322.3 195.6 V261 H318.6 V277.4 H284.5 V229 L298 192"/>
<path class="h" d="M300.7 192.5 V256.8 M307.6 193 V261 M311.8 193 V261 M318.3 194 V261"/>
<path class="h" d="M293 204.7 H300.7 M284.5 225.9 H300.7 M284.5 231.6 H300.7 M284.5 234.8 H300.7 M284.5 243.3 H300.7"/>
<path class="k" d="M289.2 214.2 H300.7 M284.5 246.6 H300.7"/>
<path class="h" d="M300.7 218.4 H318.3 M284.5 261.7 H318.6"/>
<path class="k2" d="M322.3 236 V242"/>
<path class="c" d="M284.5 252.2 L326 252.2"/>
<path class="k2" d="M272.8 233.6 V210.2 H277.1 V231.6"/>
<path class="k" d="M277.1 231.6 L284.5 231.1"/>
<path class="k" d="M272.8 233.6 Q279.6 237.6 281.9 244.5"/>
<path class="k2" d="M272.8 270.8 V294.2 H277.1 V272.8"/>
<path class="k" d="M277.1 272.8 L284.5 273.3"/>
<path class="k" d="M272.8 270.8 Q279.6 266.8 281.9 259.9"/>
<path class="k" d="M274.1 244.5 H281.9 V259.9 H274.1"/>
<path class="k" d="M274.1 244.5 V259.9"/>
<path class="k2" d="M274.1 246.1 H249.7 L248.5 247.3 V257.1 L249.7 258.3 H274.1"/>
<path class="h" d="M241.8 174.6 L293.1 174.6"/>
<polygon class="a" points="272.8,174.6 265.6,173 265.6,176.2"/>
<polygon class="a" points="277.1,174.6 284.3,173 284.3,176.2"/>
<text class="d" transform="translate(248.1 171.6) scale(1 0.84)" text-anchor="middle">22</text>
<path class="h" d="M243.3 193.8 L289.1 193.8"/>
<polygon class="a" points="271.5,193.8 264.3,192.2 264.3,195.4"/>
<polygon class="a" points="273.4,193.8 280.6,192.2 280.6,195.4"/>
<text class="d" transform="translate(247.1 191) scale(1 0.84)" text-anchor="middle">5</text>
<path class="h" d="M272.8 171.6 L272.8 210.2"/>
<path class="h" d="M277.1 171.6 L277.1 210.2"/>
<path class="h" d="M271.5 190.8 L271.5 219.8"/>
<path class="h" d="M224.5 210.2 L224.5 294.2"/>
<polygon class="a" points="224.5,210.2 222.9,217.4 226.1,217.4"/>
<polygon class="a" points="224.5,294.2 222.9,287 226.1,287"/>
<path class="h" d="M222 210.2 L272.8 210.2"/>
<path class="h" d="M222 294.2 L272.8 294.2"/>
<text class="d" transform="translate(221.8 252.2) rotate(-90) scale(1 1)" text-anchor="middle" style="font-size:11.2px">Ø450</text>
<path class="h" d="M241.6 219.8 L241.6 284.6"/>
<polygon class="a" points="241.6,219.8 240,227 243.2,227"/>
<polygon class="a" points="241.6,284.6 240,277.4 243.2,277.4"/>
<path class="h" d="M239.1 219.8 L272.8 219.8"/>
<path class="h" d="M239.1 284.6 L272.8 284.6"/>
<text class="d" transform="translate(239.3 265.2) rotate(-90) scale(1 1)" text-anchor="start" style="font-size:11.2px">Ø350<tspan style="font-size:7.5px" dy="1.5">j6</tspan></text>
</g>
<g id="f450-front">
<path class="k2" d="M569 730 V720 L585.7 695.2 H628.9 L645.6 720 V730"/>
<path class="k" d="M589 696.7 L574.5 721 M625.6 696.7 L640.1 721"/>
<path class="h" d="M589.8 696.2 V728.2 M596 696.2 V728.2 M599.3 696.2 V728.2 M605.7 696.2 V728.2 M608.6 696.2 V728.2 M615.5 696.2 V728.2 M618.5 696.2 V728.2 M624.8 696.2 V728.2"/>
<path class="k2" d="M569 730 l9.5 13 M645.6 730 l-9.5 13"/>
<path class="h" d="M574.5 721 V734 M577.5 716 V730 M640.1 721 V734 M637.1 716 V730"/>
<ellipse cx="607.3" cy="754.3" rx="46.4" ry="44.2" fill="#fff" stroke="#161616" stroke-width="1.8"/>
<ellipse class="h" cx="607.3" cy="754.3" rx="44.2" ry="42"/>
<ellipse class="c" cx="607.3" cy="754.3" rx="40.4" ry="38.5"/>
<ellipse class="k" cx="607.3" cy="754.3" rx="35.6" ry="33.9"/>
<circle class="k" cx="607.3" cy="754.3" r="8.4"/>
<circle class="h" cx="607.3" cy="754.3" r="6.6"/>
<circle class="k" cx="607.3" cy="754.3" r="5"/>
<circle class="k" cx="644.6" cy="769" r="1.7"/>
<circle class="k" cx="622.8" cy="789.9" r="1.7"/>
<circle class="k" cx="591.8" cy="789.9" r="1.7"/>
<circle class="k" cx="570" cy="769" r="1.7"/>
<circle class="k" cx="570" cy="739.6" r="1.7"/>
<circle class="k" cx="591.8" cy="718.7" r="1.7"/>
<circle class="k" cx="622.8" cy="718.7" r="1.7"/>
<circle class="k" cx="644.6" cy="739.6" r="1.7"/>
<path class="c" d="M554.4 754.3 L657.7 754.3"/>
<path class="c" d="M607.3 691.2 L607.3 802"/>
<path class="h" d="M560.4 784 L658 723.3 H682.6"/>
<polygon class="a" points="641.6,734 636.4,735.9 637.5,737.8"/>
<polygon class="a" points="573,774.6 578.2,772.7 577.1,770.8"/>
<text class="d" transform="translate(682.6 721.6) scale(1 0.84)" text-anchor="end">Ø400</text>
<path class="h" d="M604.7 806 L681.5 806"/>
<polygon class="a" points="621.4,806 614.2,804.4 614.2,807.6"/>
<polygon class="a" points="625,806 632.2,804.4 632.2,807.6"/>
<path class="h" d="M621.4 789.5 L621.4 808.5"/>
<path class="h" d="M625 789.5 L625 808.5"/>
<text class="d" transform="translate(680.5 803.2) scale(1 0.84)" text-anchor="end">4-Ø17.5</text>
</g>
</svg>
</body>
</html>
